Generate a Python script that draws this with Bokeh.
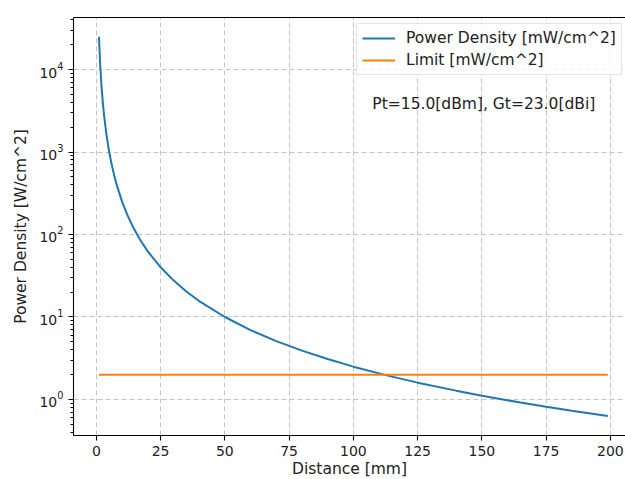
from bokeh.plotting import figure
from bokeh.models import Range1d, LinearAxis, Label, Legend, LegendItem, FixedTicker
from bokeh.embed import file_html
from bokeh.resources import INLINE

# Data
distance = [1, 1.5, 2, 2.5, 3, 4, 5, 6, 7, 8, 10, 12, 14, 17, 20, 25, 30, 35, 40, 50,
            60, 70, 80, 90, 100, 113, 125, 140, 150, 165, 175, 185, 199]
power_density = [25000, 11100, 6250, 4000, 2780, 1560, 1000, 694, 510, 391, 250, 174, 128,
                 86.5, 62.5, 40, 27.8, 20.4, 15.6, 10, 6.94, 5.10, 3.91, 3.09, 2.5, 1.96,
                 1.6, 1.28, 1.11, 0.918, 0.816, 0.730, 0.631]
limit_x = [1, 199]
limit_y = [2.0, 2.0]
x_ticks = [0, 25, 50, 75, 100, 125, 150, 175, 200]
note = "Pt=15.0[dBm], Gt=23.0[dBi]"

FONT = "DejaVu Sans"

p = figure(width=625, height=479, frame_width=552, frame_height=418,
           output_backend="svg", toolbar_location=None,
           y_axis_type="log",
           x_range=Range1d(-8.9, 205.9), y_range=Range1d(0.366, 42700),
           min_border_left=73, min_border_right=0, min_border_top=17, min_border_bottom=44)
p.outline_line_color = None
p.background_fill_color = "white"

r1 = p.line(distance, power_density, line_color="#1f77b4", line_width=2)
r2 = p.line(limit_x, limit_y, line_color="#ff7f0e", line_width=2)

# axes styling
for ax in (p.xaxis[0], p.yaxis[0]):
    ax.axis_line_color = "black"
    ax.axis_line_width = 1.1
    ax.major_tick_line_color = "black"
    ax.major_tick_line_width = 1.1
    ax.major_tick_out = 5
    ax.major_tick_in = 0
    ax.major_label_text_font = FONT
    ax.major_label_text_font_size = "14px"
    ax.major_label_text_color = "#222222"
    ax.axis_label_text_font = FONT
    ax.axis_label_text_font_size = "15.5px"
    ax.axis_label_text_font_style = "normal"
    ax.axis_label_text_color = "#222222"

p.xaxis.ticker = FixedTicker(ticks=x_ticks)
p.xaxis.minor_tick_line_color = None
p.xaxis.axis_label = "Distance [mm]"
p.xaxis.axis_label_standoff = 1
p.xaxis.major_label_standoff = 5

p.yaxis.axis_label = "Power Density [W/cm^2]"
p.yaxis.minor_tick_line_color = "black"
p.yaxis.minor_tick_out = 3
p.yaxis.minor_tick_in = 0
p.yaxis.major_label_standoff = 5
p.yaxis.axis_label_standoff = 6

# top spine
top = LinearAxis(ticker=FixedTicker(ticks=[]), major_tick_line_color=None,
                 minor_tick_line_color=None, axis_line_color="black",
                 axis_line_width=1.1, major_label_standoff=0)
p.add_layout(top, "above")

# grid
for g in (p.xgrid[0], p.ygrid[0]):
    g.grid_line_color = "#c4c4c4"
    g.grid_line_dash = "5 3"
    g.grid_line_width = 1
p.xgrid.ticker = FixedTicker(ticks=x_ticks)

# annotation
p.add_layout(Label(x=107.4, y=3870, text=note, text_font=FONT, text_font_size="15.5px",
                   text_baseline="middle", text_color="#222222"))

legend = Legend(items=[LegendItem(label="Power Density [mW/cm^2]", renderers=[r1]),
                       LegendItem(label="Limit [mW/cm^2]", renderers=[r2])],
                location=(283, 360), margin=0, padding=5, spacing=4,
                label_text_font=FONT, label_text_font_size="15.5px",
                label_text_color="#222222", glyph_width=33, glyph_height=18,
                label_height=18, label_standoff=11, border_line_color="#cccccc",
                background_fill_alpha=0.85)
p.add_layout(legend)

open("out.html", "w").write(file_html(p, INLINE))
